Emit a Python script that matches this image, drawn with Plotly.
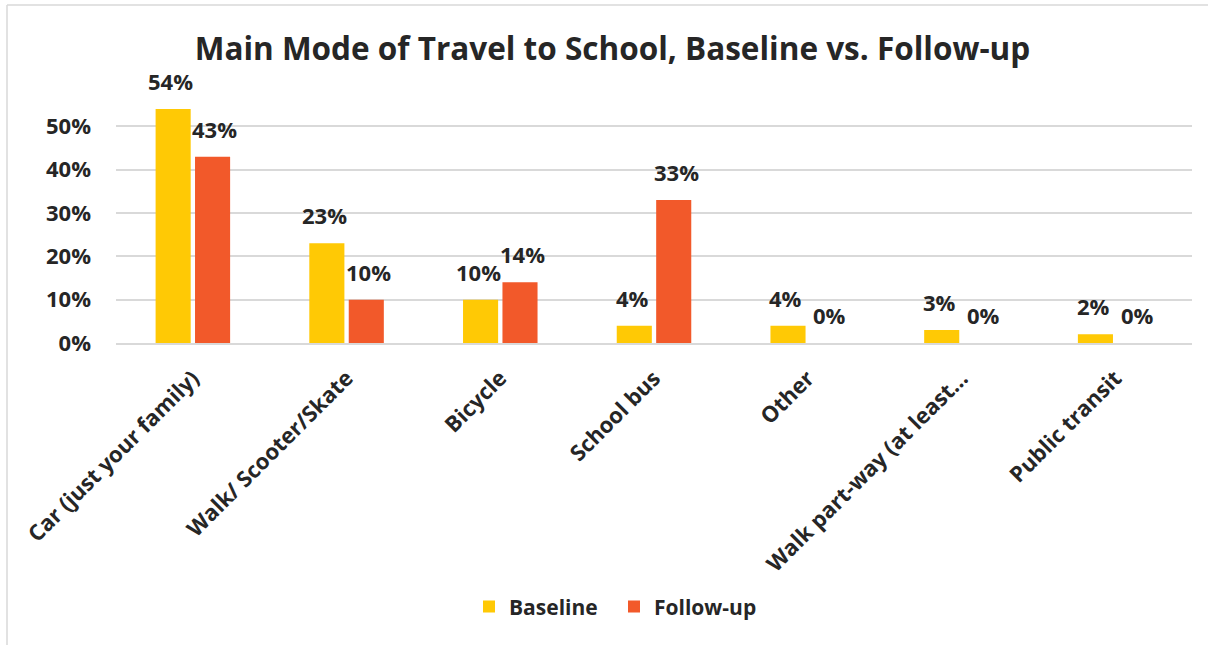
import plotly.graph_objects as go

categories = [
    "Car (just your family)",
    "Walk/ Scooter/Skate",
    "Bicycle",
    "School bus",
    "Other",
    "Walk part-way (at least\u2026",
    "Public transit",
]
baseline = [0.54, 0.23, 0.10, 0.04, 0.04, 0.03, 0.02]
follow_up = [0.43, 0.10, 0.14, 0.33, 0.00, 0.00, 0.00]
y_ticks = [0, 0.1, 0.2, 0.3, 0.4, 0.5]
y_tick_labels = ["0%", "10%", "20%", "30%", "40%", "50%"]

FONT = "Open Sans"
INK = "#262626"
YELLOW = "#FFC905"
ORANGE = "#F2592A"

fig = go.Figure()
fig.add_trace(go.Bar(name="<b>Baseline</b>", x=categories, y=baseline,
                     marker=dict(color=YELLOW, line=dict(width=0))))
fig.add_trace(go.Bar(name="<b>Follow-up</b>", x=categories, y=follow_up,
                     marker=dict(color=ORANGE, line=dict(width=0))))

# value labels above each bar
for series, shift in ((baseline, -22), (follow_up, 22)):
    for cat, v in zip(categories, series):
        fig.add_annotation(x=cat, y=v, xref="x", yref="y", text=f"<b>{v:.0%}</b>",
                           showarrow=False, xshift=shift, yshift=11, yanchor="bottom",
                           font=dict(family=FONT, size=22, color=INK))

# chart-area frame
fig.add_shape(type="line", xref="paper", yref="paper",
              x0=-109 / 1076, x1=1.2, y0=(343 - 5) / 260, y1=(343 - 5) / 260,
              line=dict(color="#D9D9D9", width=1.5))
fig.add_shape(type="line", xref="paper", yref="paper",
              x0=-109 / 1076, x1=-109 / 1076, y0=(343 - 5) / 260, y1=-1.3,
              line=dict(color="#D9D9D9", width=1.5))

fig.update_layout(
    width=1208, height=645,
    margin=dict(l=116, r=16, t=83, b=302),
    paper_bgcolor="white", plot_bgcolor="white",
    barmode="group", bargap=0.487, bargroupgap=0.11,
    title=dict(text="<b>Main Mode of Travel to School, Baseline vs. Follow-up</b>",
               x=0.507, xanchor="center", y=1 - 49 / 645, yanchor="middle",
               font=dict(family=FONT, size=31.5, color=INK)),
    font=dict(family=FONT, color=INK),
    legend=dict(orientation="h", x=(469 - 116) / 1076, xanchor="left", y=-1.015, yanchor="middle",
                font=dict(family=FONT, size=21, color=INK), itemwidth=30,
                entrywidth=100, entrywidthmode="pixels",
                traceorder="normal"),
    showlegend=True,
)
fig.update_xaxes(tickangle=-45, tickfont=dict(family=FONT, size=22, color=INK),
                 showline=True, linecolor="#D9D9D9", linewidth=1.5, ticks="",
                 showgrid=False, tickprefix="<b>", ticksuffix="</b>",
                 ticklabelstandoff=12)
fig.update_yaxes(range=[0, 0.6], tickvals=y_ticks, ticktext=[f"<b>{t}</b>" for t in y_tick_labels],
                 tickfont=dict(family=FONT, size=22, color=INK),
                 showgrid=True, gridcolor="#D9D9D9", gridwidth=1.5, zeroline=False,
                 ticklabelstandoff=24)

fig.write_html("out.html")
